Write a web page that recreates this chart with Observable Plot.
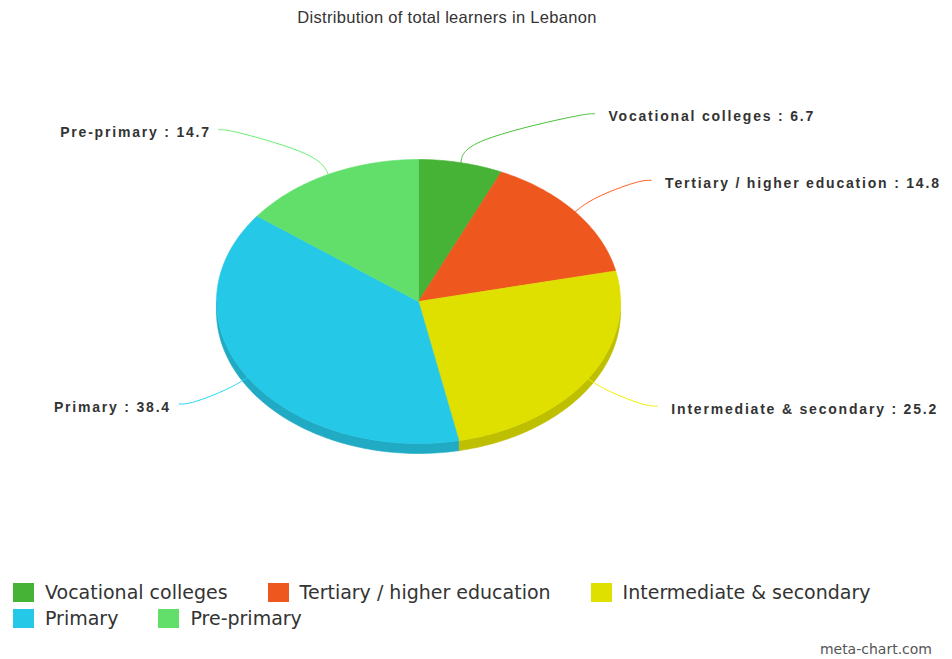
<!DOCTYPE html>
<html><head><meta charset="utf-8">
<script src="https://cdn.jsdelivr.net/npm/d3@7"></script>
<script src="https://cdn.jsdelivr.net/npm/@observablehq/plot@0.6"></script>
<style>
body{margin:0;background:#fff;width:952px;height:659px;position:relative;overflow:hidden;font-family:"DejaVu Sans",sans-serif}
#title{position:absolute;left:0;width:894px;top:8px;text-align:center;font:16.5px "Liberation Sans",Arial,sans-serif;letter-spacing:0.3px;color:#333}
#chart{position:absolute;left:0;top:40px}
#chart text{letter-spacing:1.8px}
#legend{position:absolute;left:13px;top:583px;width:930px;display:flex;flex-wrap:wrap;row-gap:7px}
.item{display:flex;align-items:center;margin-right:40px;font-size:19px;color:#333;height:19px;line-height:19px;white-space:nowrap}
.sw{width:21px;height:19px;margin-right:11px}
#credit{position:absolute;right:20px;top:641px;font-size:14px;color:#555}
</style></head>
<body>
<div id="title">Distribution of total learners in Lebanon</div>
<div id="chart"></div>
<div id="legend"></div>
<div id="credit">meta-chart.com</div>
<script>
const categories = ["Vocational colleges", "Tertiary / higher education", "Intermediate & secondary", "Primary", "Pre-primary"];
const values = [6.7, 14.8, 25.2, 38.4, 14.7];
const colors = ["#46b337", "#ee581e", "#dfe000", "#25c8e6", "#62df6b"];

const rows = categories.map((name, i) => ({name, value: values[i], color: colors[i]}));

// layout
const W = 952, H = 530, Y0 = 40;
const cx = 418, cy = 301, rx = 202, ry = 142, depth = 10;
const P = (t, dz = 0) => [cx + rx * Math.sin(t), cy - ry * Math.cos(t) + dz];
const arcPts = (a, b, dz = 0) => {
  const n = Math.max(2, Math.ceil(Math.abs(b - a) / (Math.PI / 180)));
  return d3.range(n + 1).map(k => P(a + (b - a) * k / n, dz));
};

const arcs = d3.pie().sort(null).value(d => d.value)(rows);

const marks = [];
// side walls (visible lower half)
arcs.forEach(a => {
  const s = Math.max(a.startAngle, Math.PI / 2), e = Math.min(a.endAngle, 3 * Math.PI / 2);
  if (s < e) {
    const pts = [...arcPts(s, e, 0), ...arcPts(e, s, depth)];
    const c = d3.color(a.data.color).darker(0.45).formatHex();
    marks.push(Plot.line(pts, {x: d => d[0], y: d => d[1], fill: c, stroke: c, strokeWidth: 0.6}));
  }
});
// top faces
arcs.forEach(a => {
  const pts = [[cx, cy], ...arcPts(a.startAngle, a.endAngle), [cx, cy]];
  marks.push(Plot.line(pts, {x: d => d[0], y: d => d[1], fill: a.data.color, stroke: a.data.color, strokeWidth: 0.6}));
});
// labels & connectors
const labels = arcs.map(a => {
  const m = (a.startAngle + a.endAngle) / 2;
  const sgn = Math.sin(m) >= 0 ? 1 : -1;
  const edge = P(m);
  const bend = [cx + (rx + 22) * Math.sin(m), cy - (ry + 22) * Math.cos(m)];
  const ax = cx + sgn * (155 + 100 * Math.abs(Math.sin(m)));
  const ay = cy - 192 * Math.cos(m);
  return {
    name: a.data.name, value: a.data.value, color: a.data.color, sgn,
    path: [edge, bend, [ax - sgn * 12, ay], [ax, ay]],
    tx: ax + sgn * (sgn > 0 ? 14 : 8), ty: ay + 3
  };
});
labels.forEach(l => {
  const c = d3.color(l.color).brighter(0.2).formatHex();
  marks.push(Plot.line(l.path, {x: d => d[0], y: d => d[1], stroke: c, strokeWidth: 1, curve: "basis"}));
});
const textOpts = {
  x: "tx", y: "ty", text: d => `${d.name} : ${d.value}`,
  fontWeight: "bold", fontSize: 14, fill: "#333", fontFamily: "Liberation Sans, Arial, sans-serif"
};
marks.push(Plot.text(labels.filter(d => d.sgn > 0), {...textOpts, textAnchor: "start"}));
marks.push(Plot.text(labels.filter(d => d.sgn < 0), {...textOpts, textAnchor: "end"}));

const chart = Plot.plot({
  width: W, height: H,
  margin: 0,
  x: {domain: [0, W], range: [0, W], axis: null},
  y: {domain: [Y0, Y0 + H], range: [0, H], axis: null},
  marks
});
document.getElementById("chart").append(chart);

const lg = document.getElementById("legend");
rows.forEach(r => {
  const it = document.createElement("div");
  it.className = "item";
  const sw = document.createElement("span");
  sw.className = "sw"; sw.style.background = r.color;
  it.append(sw, document.createTextNode(r.name));
  lg.append(it);
});
</script>
</body></html>
